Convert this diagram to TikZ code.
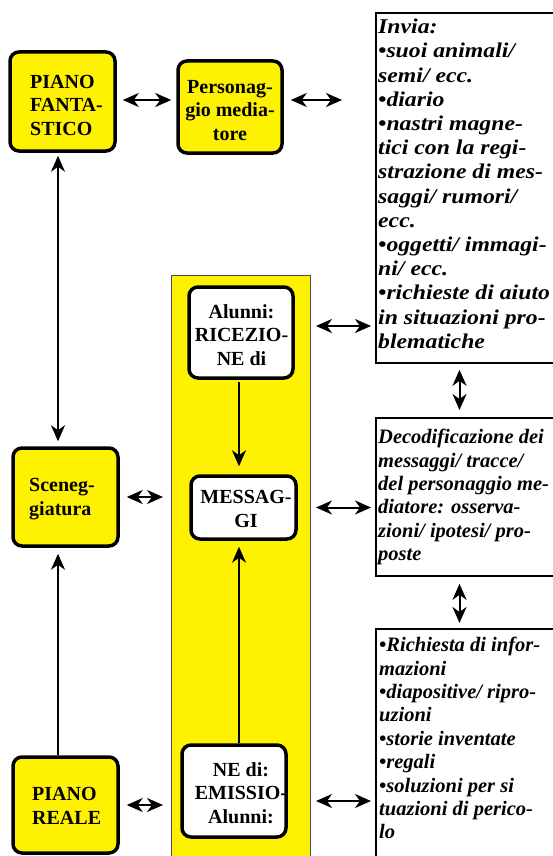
\documentclass[tikz,border=0pt]{standalone}
\usepackage{fontspec}
\setmainfont{Liberation Serif}
\newfontfamily\widefont[FakeStretch=1.13]{Liberation Serif}
\usetikzlibrary{arrows.meta}
\begin{document}
\begin{tikzpicture}[x=1pt,y=-1pt,
  ybox/.style={draw, fill=yellow, line width=3.5pt, rounded corners=9pt, inner sep=0pt,
    font=\bfseries\fontsize{20}{23.5}\selectfont},
  wbox/.style={ybox, fill=white},
  rbox/.style={draw, fill=white, line width=1.8pt, inner sep=0pt},
  colbox/.style={draw=black!70, fill=yellow, line width=1pt, inner sep=0pt},
  btxt/.style={font=\bfseries\fontsize{20}{23.5}\selectfont, inner sep=0pt},
  itxt/.style={font=\bfseries\itshape\fontsize{20.5}{23.4}\selectfont, inner sep=0pt, align=left, anchor=north west},
  conn/.style={line width=2pt},
  tip/.tip={Stealth[length=16pt,width=14pt,inset=5pt]},
  dbl/.style={conn, tip-tip},
  sgl/.style={conn, -tip},
]
\useasboundingbox (0,0) rectangle (553,856);
\clip (0,0) rectangle (553,856);

% left column
\node[ybox, minimum width=105pt, minimum height=99pt] (pf) at (62.5,101.5) {};
\node[btxt, align=left, anchor=west] (pft) at (30,105) {PIANO\\FANTA-\\STICO};
\node[ybox, minimum width=104pt, minimum height=92pt] (pm) at (230,107) {};
\node[btxt, align=center] (pmt) at (230,110.5) {Personag-\\gio media-\\tore};
\node[ybox, minimum width=105pt, minimum height=98pt] (sc) at (65.5,497) {};
\node[btxt, align=left, anchor=west] (sct) at (29,499) {Sceneg-\\giatura};
\node[ybox, minimum width=105pt, minimum height=96pt] (pr) at (65.5,805) {};
\node[btxt, align=left, anchor=west] (prt) at (32,806) {PIANO\\REALE};

% yellow column
\node[colbox, anchor=north west, minimum width=139pt, minimum height=650pt] (col) at (171,275) {};
\node[wbox, minimum width=104pt, minimum height=91pt, align=center] (alu) at (241,332.5) {};
\node[btxt, align=center] (alut) at (241.5,335) {Alunni:\\RICEZIO-\\NE di};
\node[wbox, minimum width=105pt, minimum height=63pt] (msg) at (243.5,507.5) {};
\node[btxt, align=center] (msgt) at (246,509) {MESSAG-\\GI};
\node[wbox, minimum width=104pt, minimum height=92pt] (emi) at (234,791) {};
\node[btxt, align=center] (emit) at (241,793) {NE di:\\EMISSIO-\\Alunni:};

% right boxes
\node[rbox, anchor=north west, minimum width=240pt, minimum height=350pt] (tr) at (375,12) {};
\node[itxt, font=\widefont\bfseries\itshape\fontsize{21}{24.2}\selectfont] (trt) at (378,19)
  {Invia:\\•suoi animali/\\semi/ ecc.\\•diario\\•nastri magne-\\tici con la regi-\\strazione di mes-\\saggi/ rumori/\\ecc.\\•oggetti/ immagi-\\ni/ ecc.\\•richieste di aiuto\\in situazioni pro-\\blematiche};
\node[rbox, anchor=north west, minimum width=240pt, minimum height=158pt] (dec) at (375,417) {};
\node[itxt] (dect) at (378,429)
  {Decodificazione dei\\messaggi/ tracce/\\del personaggio me-\\diatore: osserva-\\zioni/ ipotesi/ pro-\\poste};
\node[rbox, anchor=north west, minimum width=240pt, minimum height=300pt] (bot) at (375,628) {};
\node[itxt] (bott) at (379,637)
  {•Richiesta di infor-\\mazioni\\•diapositive/ ripro-\\uzioni\\•storie inventate\\•regali\\•soluzioni per si\\tuazioni di perico-\\lo};

% helper coordinates
\coordinate (lx) at (58,0);
\coordinate (cx) at (239,0);
\coordinate (rx) at (459.5,0);
\coordinate (pe) at (342,100);
\coordinate (pfe) at ([yshift=1.5pt]pf.east);
\coordinate (pme) at ([yshift=7pt]pm.east);
\coordinate (a1) at ([yshift=6.5pt]alu.east);
\coordinate (a3) at ([yshift=-10pt]emi.east);

% connectors
\draw[dbl, shorten <=6pt, shorten >=5pt] (pfe) -- (pfe -| pm.west);
\draw[dbl, shorten <=7pt] (pme) -- (pe);
\draw[dbl, shorten <=3pt, shorten >=5pt] (pf.south -| lx) -- (sc.north -| lx);
\draw[sgl, shorten >=6pt] (pr.north -| lx) -- (sc.south -| lx);
\draw[dbl, shorten <=7pt, shorten >=8pt] (sc.east) -- (sc.east -| col.west);
\draw[dbl, shorten <=7pt, shorten >=8pt] (pr.east) -- (pr.east -| col.west);
\draw[sgl, shorten <=2pt, shorten >=8pt] (alu.south -| cx) -- (msg.north -| cx);
\draw[sgl, shorten >=6pt] (emi.north -| cx) -- (msg.south -| cx);
\draw[dbl, shorten <=5pt, shorten >=4pt] (a1 -| col.east) -- (a1 -| tr.west);
\draw[dbl, shorten <=5pt, shorten >=4pt] (msg.east -| col.east) -- (msg.east -| dec.west);
\draw[dbl, shorten <=5pt, shorten >=4pt] (a3 -| col.east) -- (a3 -| bot.west);
\draw[dbl, shorten <=6pt, shorten >=7pt] (tr.south -| rx) -- (dec.north -| rx);
\draw[dbl, shorten <=7pt, shorten >=5pt] (dec.south -| rx) -- (bot.north -| rx);
\end{tikzpicture}
\end{document}
